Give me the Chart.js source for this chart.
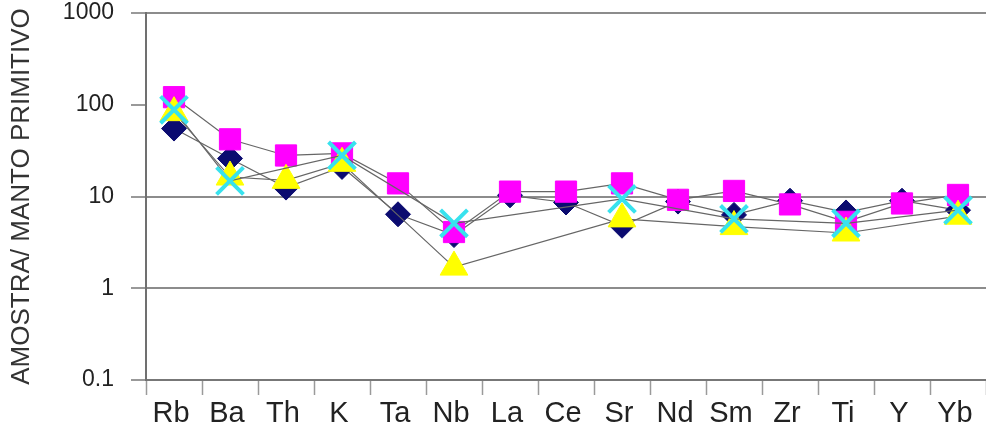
<!DOCTYPE html>
<html>
<head>
<meta charset="utf-8">
<title>Manto primitivo</title>
<script src="https://cdn.jsdelivr.net/npm/chart.js@4/dist/chart.umd.min.js"></script>
<style>
  html, body { margin: 0; padding: 0; background: #fff; }
</style>
</head>
<body>
<canvas id="grafica" width="986" height="428"></canvas>
<script>
const elementos = ['Rb', 'Ba', 'Th', 'K', 'Ta', 'Nb', 'La', 'Ce', 'Sr', 'Nd', 'Sm', 'Zr', 'Ti', 'Y', 'Yb'];
const ticksY = [0.1, 1, 10, 100, 1000];

// amostras normalizadas ao manto primitivo
const amostraCiano    = [88, 14.8, null, 28, null, 5.1, null, null, 9.4, null, 5.7, null, 5.1, null, 7.1];
const amostraAmarela  = [82, 16.3, 15, 23, null, 1.7, null, null, 5.7, null, 4.7, null, 4.0, null, 6.1];
const amostraMagenta  = [121, 42, 28, 29.5, 13.9, 4.1, 11.3, 11.3, 13.9, 9.2, 11.5, 8.2, 5.3, 8.4, 10.4];
const amostraAzul     = [55, 26, 12.5, 21, 6.4, 3.8, 10.3, 8.6, 4.8, 8.8, 6.3, 9.0, 6.7, 9.0, 7.1];

const linha = '#666666';

const datos = {
    labels: elementos,
    datasets: [
        {
            label: 'ciano',
            data: amostraCiano,
            borderColor: linha,
            borderWidth: 1.2,
            spanGaps: true,
            pointStyle: 'crossRot',
            pointRadius: 19,
            pointBorderColor: '#38e2ee',
            pointBackgroundColor: '#38e2ee',
            pointBorderWidth: 4
        },
        {
            label: 'amarela',
            data: amostraAmarela,
            borderColor: linha,
            borderWidth: 1.2,
            spanGaps: true,
            pointStyle: 'triangle',
            pointRadius: 16,
            pointBorderColor: '#ffff00',
            pointBackgroundColor: '#ffff00',
            pointBorderWidth: 1
        },
        {
            label: 'magenta',
            data: amostraMagenta,
            borderColor: linha,
            borderWidth: 1.2,
            pointStyle: 'rect',
            pointRadius: 15,
            pointBorderColor: '#ff00ff',
            pointBackgroundColor: '#ff00ff',
            pointBorderWidth: 1
        },
        {
            label: 'azul',
            data: amostraAzul,
            borderColor: linha,
            borderWidth: 1.2,
            pointStyle: 'rectRot',
            pointRadius: 12.5,
            pointBorderColor: '#0b0b70',
            pointBackgroundColor: '#0b0b70',
            pointBorderWidth: 1
        }
    ]
};

const config = {
    type: 'line',
    data: datos,
    options: {
        responsive: false,
        animation: false,
        layout: {
            autoPadding: false,
            padding: { top: 13, right: 0, bottom: 0, left: 0 }
        },
        plugins: {
            legend: { display: false },
            tooltip: { enabled: false }
        },
        scales: {
            x: {
                type: 'category',
                offset: true,
                afterFit: (s) => {
                    s.height = 48;
                    s.paddingLeft = 0;
                    s.paddingRight = 0;
                },
                grid: {
                    offset: true,
                    drawOnChartArea: false,
                    drawTicks: true,
                    tickLength: 15,
                    tickColor: '#9a9a9a',
                    tickWidth: 1.5
                },
                border: { display: true, color: '#777777', width: 2 },
                ticks: {
                    autoSkip: false,
                    maxRotation: 0,
                    padding: 2,
                    labelOffset: -3,
                    color: '#222222',
                    font: { family: 'Liberation Sans, Arial, sans-serif', size: 29 }
                }
            },
            y: {
                type: 'logarithmic',
                min: 0.1,
                max: 1000,
                afterFit: (s) => {
                    s.width = 146;
                    s.paddingTop = 0;
                    s.paddingBottom = 0;
                },
                afterBuildTicks: (s) => {
                    s.ticks = ticksY.map(v => ({ value: v }));
                },
                grid: {
                    color: (ctx) => [1, 10, 1000].includes(ctx.tick && ctx.tick.value) ? '#8c8c8c' : 'rgba(0,0,0,0)',
                    lineWidth: 2,
                    drawTicks: true,
                    tickLength: 15,
                    tickColor: '#777777',
                    tickWidth: 1.5
                },
                border: { display: true, color: '#707070', width: 2 },
                ticks: {
                    padding: 17,
                    color: '#222222',
                    font: { family: 'Liberation Sans, Arial, sans-serif', size: 23 },
                    callback: (v) => String(v)
                },
                title: {
                    display: true,
                    text: 'AMOSTRA/ MANTO PRIMITIVO',
                    color: '#333333',
                    padding: { top: 6, bottom: 0 },
                    font: { family: 'Liberation Sans, Arial, sans-serif', size: 26 }
                }
            }
        }
    }
};

const grafica = new Chart(document.getElementById('grafica'), config);
</script>
</body>
</html>
